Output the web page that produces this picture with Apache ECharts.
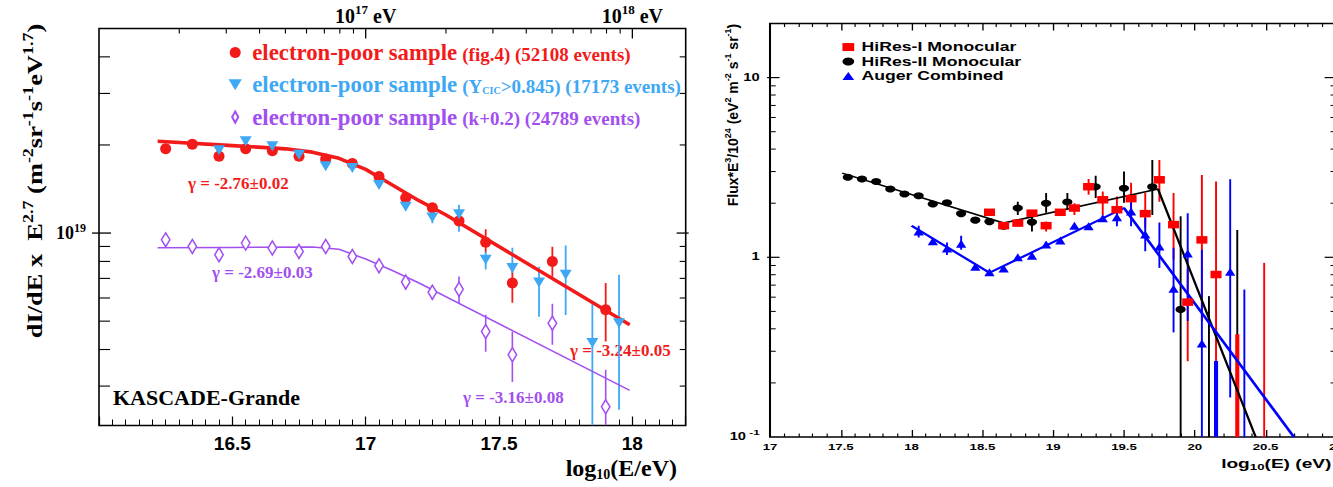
<!DOCTYPE html>
<html>
<head>
<meta charset="utf-8">
<script src="https://cdn.jsdelivr.net/npm/echarts@6.0.0/dist/echarts.min.js"></script>
<style>
html,body{margin:0;padding:0;background:#ffffff;overflow:hidden;}
body{width:1333px;height:487px;position:relative;}
#left{position:absolute;left:0;top:0;width:700px;height:487px;}
#right{position:absolute;left:700px;top:0;width:445px;height:487px;transform:scaleX(1.47);transform-origin:0 0;}
</style>
</head>
<body>
<div id="left"></div>
<div id="right"></div>
<script>
// ================= LEFT PANEL DATA (KASCADE-Grande) =================
const kgFig4LogE = [16.25,16.35,16.45,16.55,16.65,16.75,16.85,16.95,17.05,17.15,17.25,17.35,17.45,17.55,17.70,17.90];
const kgFig4Flux = [1.94e19,2.01e19,1.83e19,1.94e19,1.91e19,1.83e19,1.79e19,1.73e19,1.56e19,1.32e19,1.22e19,1.10e19,9.31e18,6.75e18,8.00e18,5.47e18];
const kgFig4Err  = [[17.45,8.56e18,1.03e19],[17.55,5.78e18,7.67e18],[17.70,7.09e18,8.98e18],[17.90,4.26e18,6.75e18]];

const kgYcicLogE = [16.45,16.55,16.65,16.75,16.85,16.95,17.05,17.15,17.25,17.35,17.45,17.55,17.65,17.75,17.85,17.95];
const kgYcicFlux = [1.92e19,2.06e19,1.98e19,1.85e19,1.69e19,1.67e19,1.46e19,1.23e19,1.13e19,1.16e19,8.11e18,7.59e18,6.78e18,7.20e18,4.21e18,4.92e18];
const kgYcicErr  = [[17.25,1.08e19,1.18e19],[17.35,1.01e19,1.25e19],[17.45,7.50e18,8.63e18],[17.55,7.31e18,8.91e18],[17.65,5.18e18,7.67e18],[17.75,5.25e18,9.06e18],[17.85,2.2e18,5.84e18],[17.95,2.49e18,7.2e18]];

const kgK02LogE = [16.25,16.35,16.45,16.55,16.65,16.75,16.85,16.95,17.05,17.15,17.25,17.35,17.45,17.55,17.70,17.90];
const kgK02Flux = [9.48e18,9.00e18,8.43e18,9.24e18,8.89e18,8.65e18,9.00e18,8.32e18,7.73e18,6.80e18,6.28e18,6.43e18,4.61e18,3.84e18,4.92e18,2.55e18];
const kgK02Err  = [[17.15,6.4e18,7.1e18],[17.25,5.9e18,6.6e18],[17.35,5.77e18,7.10e18],[17.45,3.93e18,5.26e18],[17.55,3.10e18,4.60e18],[17.70,4.15e18,5.73e18],[17.90,2.2e18,3.41e18]];

const kgFit1LogE = [16.22,16.5,16.7,16.8,16.9,17.0,17.1,17.2,17.3,17.99];
const kgFit1Flux = [2.06e19,1.99e19,1.94e19,1.89e19,1.80e19,1.65e19,1.46e19,1.29e19,1.155e19,4.86e18];
const kgFit2LogE = [16.22,16.5,16.8,16.9,17.0,17.1,17.2,17.99];
const kgFit2Flux = [8.90e18,8.93e18,8.96e18,8.80e18,8.15e18,7.45e18,6.75e18,2.90e18];

const kgNames = ['electron-poor sample (fig.4)','electron-poor sample (Y_CIC>0.845)','electron-poor sample (k+0.2)'];
const kgLegendLabels = [
  '{m0|electron-poor sample} {s0|(fig.4) (52108 events)}',
  '{m1|electron-poor sample} {s1|(Y}{b1|CIC}{s1|>0.845) (17173 events)}',
  '{m2|electron-poor sample} {s2|(k+0.2) (24789 events)}'
];
const kgSlopeTexts = ['γ = -2.76±0.02','γ = -2.69±0.03','γ = -3.24±0.05','γ = -3.16±0.08'];
const kgExperiment = 'KASCADE-Grande';

// tick positions
const kgYMinorTicks = [3e18,4e18,5e18,6e18,7e18,8e18,9e18,2e19,3e19,4e19];
const kgYMajorTicks = [1e19];
const kgTopMinorTicks = [2e16,3e16,4e16,5e16,6e16,7e16,8e16,9e16,2e17,3e17,4e17,5e17,6e17,7e17,8e17,9e17];
const kgTopMajorTicks = [1e17,1e18];
const kgTopTickExp = [17,18];
const kgYTickExp = [19];

// ================= RIGHT PANEL DATA (HiRes / Auger) =================
const hr1LogE = [18.55,18.65,18.75,18.85,18.95,19.05,19.15,19.25,19.35,19.45,19.55,19.65,19.75,19.85,19.95,20.05,20.15];
const hr1Flux = [1.78,1.50,1.55,1.76,1.50,1.78,1.88,2.47,2.09,1.84,2.12,1.75,2.70,1.52,0.563,1.25,0.802];
const hr1Err  = [[18.95,1.39,1.58],[19.15,1.72,2.0],[19.25,2.23,2.73],[19.35,1.72,2.32],[19.45,1.56,2.18],[19.55,1.72,2.60],[19.65,1.46,2.28],[19.75,2.04,3.48],[19.85,0.971,2.28],[19.95,0.264,0.855],[20.05,0.442,2.87],[20.15,0.1,2.64],[20.49,0.1,0.931]];
const hr1ErrThick = [[20.30,0.1,0.373]];

const hr2LogE = [17.55,17.65,17.75,17.85,17.95,18.05,18.15,18.25,18.35,18.45,18.55,18.65,18.75,18.85,18.95,19.10,19.30,19.50,19.70,19.90];
const hr2Flux = [2.79,2.73,2.64,2.40,2.25,2.20,1.98,2.01,1.75,1.61,1.58,1.49,1.88,1.57,2.00,2.03,2.47,2.42,2.47,0.513];
const hr2Err  = [[18.75,1.72,2.04],[18.85,1.39,1.72],[18.95,1.77,2.28],[19.10,1.84,2.28],[19.30,2.14,2.84],[19.50,2.01,3.00],[19.70,1.72,3.48],[19.90,0.1,1.69],[20.10,0.1,0.608],[20.30,0.1,1.42]];

const augerLogE = [18.05,18.15,18.25,18.35,18.45,18.55,18.65,18.75,18.85,18.95,19.05,19.15,19.25,19.35,19.45,19.55,19.65,19.75,19.85,19.95,20.05,20.25];
const augerFlux = [1.39,1.23,1.12,1.19,0.885,0.826,0.866,1.00,1.02,1.18,1.24,1.50,1.49,1.65,1.67,1.80,1.34,1.15,0.668,1.05,0.331,0.830];
const augerErr  = [[18.05,1.29,1.50],[18.25,1.03,1.21],[18.35,1.10,1.32],[19.45,1.49,1.80],[19.55,1.49,2.07],[19.65,1.08,1.66],[19.75,0.873,1.56],[19.85,0.382,1.13],[19.95,0.442,1.76],[20.05,0.1,1.10],[20.25,0.166,2.72],[20.35,0.1,0.662]];
const augerErrThick = [[20.15,0.1,0.265]];

const hr2FitLogE = [17.51,18.65,19.74,20.43];
const hr2FitFlux = [2.94,1.55,2.40,0.1];
const augerFitLogE = [18.00,18.55,19.50,20.70];
const augerFitFlux = [1.50,0.82,1.88,0.1];

const rightNames = ['HiRes-I Monocular','HiRes-II Monocular','Auger Combined'];
const rightYMinorTicks = [0.2,0.3,0.4,0.5,0.6,0.7,0.8,0.9,2,3,4,5,6,7,8,9];
const rightYMajorTicks = [1,10];
const rightYTickExp = [-1,0,1];
const rightYTickText = ['{a|10}{b| -1}','{a|1}','{a|10}'];

// ================= helpers =================
const zip = (xs, ys) => xs.map((x, i) => [x, ys[i]]);
const isExp = (v, e) => Math.abs(Math.log10(v) - e) < 1e-6;

function errBars(data, color, width, z) {
  return {
    type: 'custom', silent: true, clip: true, z: z || 2, data: data,
    encode: {x: 0, y: [1, 2]},
    renderItem: function (params, api) {
      const a = api.coord([api.value(0), api.value(1)]);
      const b = api.coord([api.value(0), api.value(2)]);
      return {type: 'line', shape: {x1: a[0], y1: a[1], x2: b[0], y2: b[1]},
        style: {stroke: color, lineWidth: width}};
    }
  };
}
function hTicks(values, xRef, leftOI, rightOI, width) {
  return {
    type: 'custom', silent: true, clip: false, z: 6,
    data: values.map(v => [xRef, v]),
    renderItem: function (params, api) {
      const cs = params.coordSys;
      const y = api.coord([api.value(0), api.value(1)])[1];
      const x0 = cs.x, x1 = cs.x + cs.width;
      return {type: 'group', children: [
        {type: 'line', shape: {x1: x0 - leftOI[0], y1: y, x2: x0 + leftOI[1], y2: y}, style: {stroke: '#000', lineWidth: width}},
        {type: 'line', shape: {x1: x1 + rightOI[0], y1: y, x2: x1 - rightOI[1], y2: y}, style: {stroke: '#000', lineWidth: width}}
      ]};
    }
  };
}
function topTicks(values, yRef, len, width) {
  return {
    type: 'custom', silent: true, clip: false, z: 6, xAxisIndex: 1, yAxisIndex: 0,
    data: values.map(v => [v, yRef]),
    renderItem: function (params, api) {
      const cs = params.coordSys;
      const x = api.coord([api.value(0), api.value(1)])[0];
      return {type: 'line', shape: {x1: x, y1: cs.y, x2: x, y2: cs.y + len}, style: {stroke: '#000', lineWidth: width}};
    }
  };
}

// ================= LEFT CHART =================
const red = '#f31a1a', sky = '#3ea8f4', violet = '#a24ff0';
const serif = '"Liberation Serif", "Times New Roman", serif';
const sans = '"Liberation Sans", Arial, sans-serif';

function legendRich() {
  const cols = [red, sky, violet];
  const r = {};
  cols.forEach((c, i) => {
    r['m' + i] = {color: c, fontSize: 22.8, fontWeight: 'bold', fontFamily: serif, lineHeight: 24};
    r['s' + i] = {color: c, fontSize: 19, fontWeight: 'bold', fontFamily: serif, lineHeight: 24, padding: [3, 0, 0, 0]};
    r['b' + i] = {color: c, fontSize: 10, fontWeight: 'bold', fontFamily: serif, lineHeight: 24, padding: [12, 0, 0, 0]};
  });
  return r;
}

const left = echarts.init(document.getElementById('left'), null, {renderer: 'svg'});
left.setOption({
  animation: false,
  backgroundColor: '#ffffff',
  grid: {left: 99, top: 28.5, width: 586.7, height: 397, show: true, borderColor: '#000', borderWidth: 1.6,
         backgroundColor: 'transparent', containLabel: false, outerBoundsMode: 'none'},
  xAxis: [
    {type: 'value', min: 16, max: 18.2, interval: 0.5, position: 'bottom',
     axisLine: {show: false},
     axisTick: {show: true, inside: true, length: 9, lineStyle: {color: '#000', width: 1.2}},
     minorTick: {show: true, splitNumber: 10, length: 6, lineStyle: {color: '#000', width: 1}},
     splitLine: {show: false}, minorSplitLine: {show: false},
     axisLabel: {showMinLabel: false, showMaxLabel: false, color: '#000', fontFamily: sans, fontWeight: 'bold', fontSize: 19, margin: 8}},
    {type: 'log', logBase: 10, min: 1e16, max: 1.585e18, position: 'top',
     axisLine: {show: false}, axisTick: {show: false}, splitLine: {show: false}, minorTick: {show: false},
     axisLabel: {showMinLabel: false, showMaxLabel: false, margin: 1,
       formatter: function (v) {
         for (const e of kgTopTickExp) { if (isExp(v, e)) return '{n|10}{s|' + e + '}{n| eV}'; }
         return '';
       },
       rich: {n: {color: '#000', fontFamily: serif, fontWeight: 'bold', fontSize: 20, lineHeight: 24},
              s: {color: '#000', fontFamily: serif, fontWeight: 'bold', fontSize: 13, lineHeight: 24, padding: [0, 0, 12, 0]}}}}
  ],
  yAxis: [
    {type: 'log', logBase: 10, min: 2.2e18, max: 5e19,
     axisLine: {show: false}, axisTick: {show: false}, splitLine: {show: false}, minorTick: {show: false},
     axisLabel: {showMinLabel: false, showMaxLabel: false, margin: 13,
       formatter: function (v) {
         for (const e of kgYTickExp) { if (isExp(v, e)) return '{n|10}{s|' + e + '}'; }
         return '';
       },
       rich: {n: {color: '#000', fontFamily: serif, fontWeight: 'bold', fontSize: 18, lineHeight: 22},
              s: {color: '#000', fontFamily: serif, fontWeight: 'bold', fontSize: 12, lineHeight: 22, padding: [0, 0, 10, 0]}}}}
  ],
  legend: {
    show: true, orient: 'vertical', left: 223.6, top: 36, itemWidth: 24, itemHeight: 11, itemGap: 9.3,
    selectedMode: false, data: kgNames,
    formatter: function (name) { return kgLegendLabels[kgNames.indexOf(name)]; },
    textStyle: {color: '#000', fontFamily: serif, fontWeight: 'bold', fontSize: 19, rich: legendRich()}
  },
  graphic: [
    {type: 'text', x: 188, y: 183, style: {text: kgSlopeTexts[0], fill: red, font: 'bold 17px ' + serif, textAlign: 'left', align: 'left', textVerticalAlign: 'middle', verticalAlign: 'middle'}},
    {type: 'text', x: 212, y: 272, style: {text: kgSlopeTexts[1], fill: violet, font: 'bold 17px ' + serif, textAlign: 'left', align: 'left', textVerticalAlign: 'middle', verticalAlign: 'middle'}},
    {type: 'text', x: 570, y: 350, style: {text: kgSlopeTexts[2], fill: red, font: 'bold 17px ' + serif, textAlign: 'left', align: 'left', textVerticalAlign: 'middle', verticalAlign: 'middle'}},
    {type: 'text', x: 463, y: 397, style: {text: kgSlopeTexts[3], fill: violet, font: 'bold 17px ' + serif, textAlign: 'left', align: 'left', textVerticalAlign: 'middle', verticalAlign: 'middle'}},
    {type: 'text', x: 113, y: 397, style: {text: kgExperiment, fill: '#000', font: 'bold 22px ' + serif, textAlign: 'left', align: 'left', textVerticalAlign: 'middle', verticalAlign: 'middle'}},
    {type: 'text', x: 34, y: 181, rotation: Math.PI / 2, scaleX: 1.2,
     style: {text: 'dI/dE x  E{sup|2.7} (m{sup|-2}sr{sup|-1}s{sup|-1}eV{sup|1.7})', fill: '#000',
             fontFamily: serif, fontWeight: 'bold', fontSize: 22, lineHeight: 26,
             textAlign: 'center', align: 'center', textVerticalAlign: 'middle', verticalAlign: 'middle',
             rich: {sup: {fill: '#000', fontFamily: serif, fontWeight: 'bold', fontSize: 15, lineHeight: 26, padding: [0, 0, 12, 0]}}}},
    {type: 'text', x: 677, y: 468,
     style: {text: '{n|log}{s|10}{n|(E/eV)}', textAlign: 'right', align: 'right', textVerticalAlign: 'middle', verticalAlign: 'middle',
             rich: {n: {fill: '#000', fontFamily: serif, fontWeight: 'bold', fontSize: 24, lineHeight: 28},
                    s: {fill: '#000', fontFamily: serif, fontWeight: 'bold', fontSize: 14, lineHeight: 28, padding: [12, 0, 0, 0]}}}}
  ],
  series: [
    hTicks(kgYMinorTicks, 17, [0, 11], [0, 6], 1.1),
    hTicks(kgYMajorTicks, 17, [7, 12], [3, 9], 1.3),
    topTicks(kgTopMinorTicks, 1e19, 5, 1.1),
    topTicks(kgTopMajorTicks, 1e19, 10, 1.3),
    errBars(kgK02Err, violet, 1.6, 2),
    errBars(kgFig4Err, red, 1.8, 2),
    errBars(kgYcicErr, sky, 1.8, 2),
    {type: 'line', data: zip(kgFit2LogE, kgFit2Flux), symbol: 'none', silent: true, z: 3,
     lineStyle: {color: violet, width: 1.5}},
    {type: 'line', data: zip(kgFit1LogE, kgFit1Flux), symbol: 'none', silent: true, z: 3,
     lineStyle: {color: red, width: 3.6}},
    {type: 'scatter', name: kgNames[0], data: zip(kgFig4LogE, kgFig4Flux), symbol: 'circle', symbolSize: 11, z: 4,
     itemStyle: {color: red, opacity: 1}},
    {type: 'scatter', name: kgNames[1], data: zip(kgYcicLogE, kgYcicFlux), symbol: 'path://M0,0L12,0L6,10Z', symbolSize: [12, 10], z: 4,
     itemStyle: {color: sky, opacity: 1}},
    {type: 'scatter', name: kgNames[2], data: zip(kgK02LogE, kgK02Flux), symbol: 'path://M5,0L10,9L5,18L0,9Z', symbolSize: [8.5, 14], z: 4,
     itemStyle: {color: '#ffffff', borderColor: violet, borderWidth: 1.6, opacity: 1}}
  ]
});

// ================= RIGHT CHART (drawn in a horizontally stretched box) =================
const S = 1.47;
const right = echarts.init(document.getElementById('right'), null, {renderer: 'svg', width: 445, height: 487});
const xAxisCommon = {
  type: 'value', min: 17, max: 21, interval: 0.5,
  axisLine: {show: false}, splitLine: {show: false}, minorSplitLine: {show: false},
  axisTick: {show: true, inside: true, length: 7, lineStyle: {color: '#000', width: 0.9}},
  minorTick: {show: true, splitNumber: 5, length: 3.5, lineStyle: {color: '#000', width: 0.8}}
};
right.setOption({
  animation: false,
  backgroundColor: '#ffffff',
  grid: {left: 47.62, top: 23.5, width: 385.3, height: 413.5, show: true, borderColor: '#000', borderWidth: 1.4,
         backgroundColor: 'transparent', containLabel: false, outerBoundsMode: 'none'},
  xAxis: [
    Object.assign({}, xAxisCommon, {position: 'bottom',
      axisLabel: {color: '#000', fontFamily: sans, fontWeight: 'bold', fontSize: 9, margin: 5}}),
    Object.assign({}, xAxisCommon, {position: 'top', axisLabel: {show: false}})
  ],
  yAxis: [
    {type: 'log', logBase: 10, min: 0.1, max: 20,
     axisLine: {show: false}, axisTick: {show: false}, splitLine: {show: false}, minorTick: {show: false},
     axisLabel: {showMinLabel: true, showMaxLabel: false, margin: 7,
       formatter: function (v) {
         for (let i = 0; i < rightYTickExp.length; i++) { if (isExp(v, rightYTickExp[i])) return rightYTickText[i]; }
         return '';
       },
       rich: {a: {color: '#000', fontFamily: sans, fontWeight: 'bold', fontSize: 10, lineHeight: 14},
              b: {color: '#000', fontFamily: sans, fontWeight: 'bold', fontSize: 8, lineHeight: 14, padding: [0, 0, 9, 0]}}}}
  ],
  legend: {
    show: true, orient: 'vertical', left: 91.9, top: 34.8, itemWidth: 8, itemHeight: 8, itemGap: 0,
    selectedMode: false, data: rightNames,
    textStyle: {color: '#000', fontFamily: sans, fontWeight: 'bold', fontSize: 12, lineHeight: 14.5}
  },
  graphic: [
    {type: 'text', x: 429.5, y: 463,
     style: {text: '{n|log}{s|10}{n|(E) (eV)}', textAlign: 'right', align: 'right', textVerticalAlign: 'middle', verticalAlign: 'middle',
             rich: {n: {fill: '#000', fontFamily: sans, fontWeight: 'bold', fontSize: 13, lineHeight: 18},
                    s: {fill: '#000', fontFamily: sans, fontWeight: 'bold', fontSize: 9, lineHeight: 18, padding: [8, 0, 0, 0]}}}},
    {type: 'group', x: 22.4, y: 115, scaleX: 1 / S, children: [
      {type: 'text', rotation: Math.PI / 2,
       style: {text: 'Flux*E{sup|3}/10{sup|24} (eV{sup|2} m{sup|-2} s{sup|-1} sr{sup|-1})', fill: '#000',
               fontFamily: sans, fontWeight: 'bold', fontSize: 14, lineHeight: 18,
               textAlign: 'center', align: 'center', textVerticalAlign: 'middle', verticalAlign: 'middle',
               rich: {sup: {fill: '#000', fontFamily: sans, fontWeight: 'bold', fontSize: 9, lineHeight: 18, padding: [0, 0, 10, 0]}}}}
    ]}
  ],
  series: [
    hTicks(rightYMinorTicks, 18, [0, 3.9], [0, 4], 1),
    hTicks(rightYMajorTicks, 18, [2, 6.5], [0, 8], 1.2),
    errBars(hr2Err, '#000', 1.3, 2),
    errBars(hr1Err, '#ff0000', 1.3, 2),
    errBars(augerErr, '#0000ff', 1.3, 2),
    errBars(hr1ErrThick, '#ff0000', 2.8, 2),
    errBars(augerErrThick, '#0000ff', 2.8, 2),
    {type: 'line', data: zip(hr2FitLogE, hr2FitFlux), symbol: 'none', silent: true, z: 3, clip: true,
     lineStyle: {color: '#000', width: 1.6}},
    {type: 'line', data: zip(augerFitLogE, augerFitFlux), symbol: 'none', silent: true, z: 3, clip: true,
     lineStyle: {color: '#0000ff', width: 2}},
    {type: 'scatter', name: rightNames[1], data: zip(hr2LogE, hr2Flux), symbol: 'circle', symbolSize: 7, z: 4,
     itemStyle: {color: '#000', opacity: 1}},
    {type: 'scatter', name: rightNames[0], data: zip(hr1LogE, hr1Flux), symbol: 'rect', symbolSize: 7.5, z: 4,
     itemStyle: {color: '#ff0000', opacity: 1}},
    {type: 'scatter', name: rightNames[2], data: zip(augerLogE, augerFlux), symbol: 'triangle', symbolSize: [7, 8], z: 4,
     itemStyle: {color: '#0000ff', opacity: 1}}
  ]
});
</script>
</body>
</html>
